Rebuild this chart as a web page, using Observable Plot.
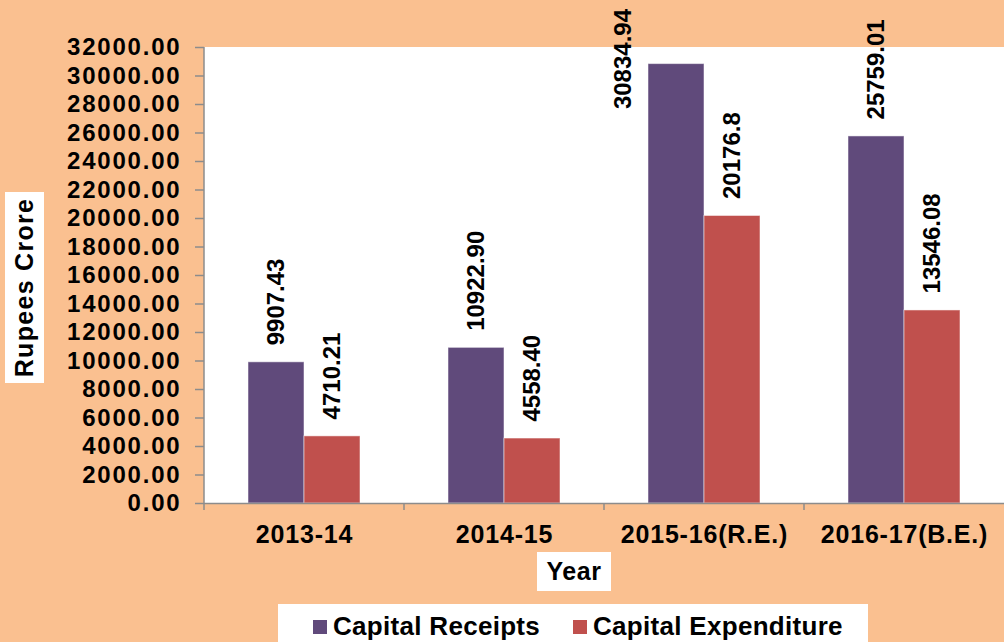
<!DOCTYPE html>
<html>
<head>
<meta charset="utf-8">
<script src="https://cdn.jsdelivr.net/npm/d3@7"></script>
<script src="https://cdn.jsdelivr.net/npm/@observablehq/plot@0.6"></script>
<style>
  html, body { margin: 0; padding: 0; }
  body { width: 1004px; height: 642px; overflow: hidden; }
  #wrap { position: relative; width: 1004px; height: 642px; background: #FAC090;
          font-family: "Liberation Sans", Arial, sans-serif; font-weight: bold; color: #000; overflow: hidden; }
  #wrap svg { position: absolute; left: 0; top: 0; }
  .box { position: absolute; background: #fff; display: flex; align-items: center; justify-content: center; }
  #ytitle { left: 5px; top: 192px; width: 39px; height: 191px; }
  #ytitle span { transform: rotate(-90deg); white-space: nowrap; font-size: 25px; letter-spacing: 1.3px; }
  #xtitle { left: 537px; top: 552px; width: 74px; height: 39px; font-size: 25px; letter-spacing: 0.6px; }
  #legend { left: 278px; top: 604px; width: 590px; height: 45px; justify-content: flex-start; align-items: flex-start; }
  .item { position: absolute; top: 7px; display: flex; align-items: center; font-size: 26px; letter-spacing: 0.3px; white-space: nowrap; }
  .sw { width: 14px; height: 14px; margin-right: 6px; }
</style>
</head>
<body>
<div id="wrap">
  <div id="ytitle" class="box"><span>Rupees Crore</span></div>
  <div id="xtitle" class="box">Year</div>
  <div id="legend" class="box"></div>
</div>
<script>
const years = ["2013-14", "2014-15", "2015-16(R.E.)", "2016-17(B.E.)"];
const series = ["Capital Receipts", "Capital Expenditure"];
const colors = ["#604A7B", "#C0504D"];
const receipts = [9907.43, 10922.90, 30834.94, 25759.01];
const expenditure = [4710.21, 4558.40, 20176.8, 13546.08];
const receiptLabels = ["9907.43", "10922.90", "30834.94", "25759.01"];
const expenditureLabels = ["4710.21", "4558.40", "20176.8", "13546.08"];
const yTicks = [0, 2000, 4000, 6000, 8000, 10000, 12000, 14000, 16000, 18000, 20000, 22000, 24000, 26000, 28000, 30000, 32000];

const data = [];
years.forEach((yr, i) => {
  data.push({year: yr, series: series[0], value: receipts[i], label: receiptLabels[i]});
  data.push({year: yr, series: series[1], value: expenditure[i], label: expenditureLabels[i]});
});
const maxVal = d3.max(data, d => d.value);
const normal = data.filter(d => d.value !== maxVal);
const special = data.filter(d => d.value === maxVal);

const font = {fontSize: 24, fontWeight: "bold", fill: "#000"};

const chart = Plot.plot({
  width: 1004,
  height: 642,
  marginLeft: 203,
  marginRight: 0,
  marginTop: 47,
  marginBottom: 139,
  style: {background: "transparent", fontFamily: "'Liberation Sans', Arial, sans-serif", overflow: "visible"},
  fx: {domain: years, padding: 0, axis: null},
  x: {domain: series, paddingInner: 0, paddingOuter: 0.763, axis: null},
  y: {domain: [0, 32000], axis: null},
  color: {domain: series, range: colors},
  marks: [
    Plot.frame({fill: "white", stroke: "white", strokeWidth: 1}),
    Plot.barY(data, {fx: "year", x: "series", y: "value", fill: "series", stroke: "#ffffff", strokeOpacity: 0.5, strokeWidth: 1}),
    Plot.ruleY([0], {stroke: "#8c8c8c", strokeWidth: 1.5}),
    Plot.text(normal, {fx: "year", x: "series", y: "value", text: "label", rotate: -90, textAnchor: "start", lineAnchor: "middle", dy: -17, ...font}),
    Plot.text(special, {fx: "year", x: "series", y: "value", text: "label", rotate: -90, textAnchor: "start", lineAnchor: "middle", dy: 45, dx: -53, ...font}),
    Plot.axisY({ticks: yTicks, tickFormat: d => d.toFixed(2), tickSize: 9, tickPadding: 14, stroke: "#8c8c8c", strokeWidth: 1.5, label: null, ...font}),
    Plot.axisFx({anchor: "bottom", tickSize: 0, tickPadding: 22, label: null, fontSize: 25, fontWeight: "bold", fill: "#000"})
  ]
});
document.getElementById("wrap").prepend(chart);

const svg = d3.select(chart);
svg.selectAll('g[aria-label="y-axis tick label"]').attr("letter-spacing", "1.8px");
svg.selectAll('g[aria-label="fx-axis tick label"]').attr("letter-spacing", "0.8px");

// Category boundary ticks and vertical axis line, derived from the scales
const fxs = chart.scale("fx");
const ys = chart.scale("y");
const y0 = ys.apply(0);
const yTop = ys.apply(32000);
const g = svg.append("g").attr("stroke", "#8c8c8c").attr("stroke-width", 1.5);
years.forEach(yr => {
  const bx = fxs.apply(yr);
  g.append("line").attr("x1", bx).attr("x2", bx).attr("y1", y0).attr("y2", y0 + 7);
});
const x0 = fxs.apply(years[0]);
g.append("line").attr("x1", x0).attr("x2", x0).attr("y1", yTop).attr("y2", y0);

// Legend
const legend = document.getElementById("legend");
const offsets = [35, 295];
series.forEach((s, i) => {
  const it = document.createElement("div");
  it.className = "item";
  it.style.left = offsets[i] + "px";
  it.innerHTML = `<div class="sw" style="background:${colors[i]}"></div><span>${s}</span>`;
  legend.appendChild(it);
});
</script>
</body>
</html>
